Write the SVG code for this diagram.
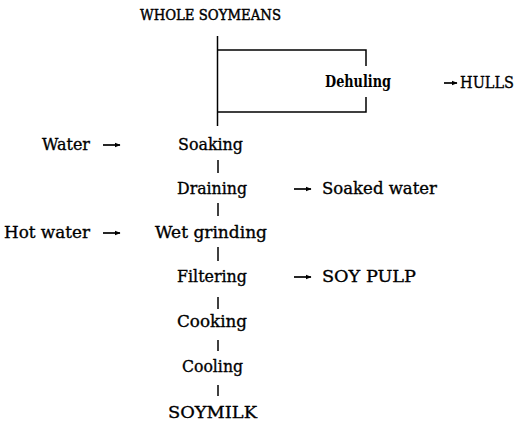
<svg xmlns="http://www.w3.org/2000/svg" width="523" height="426" viewBox="0 0 523 426">
<style>
text{font-family:"DejaVu Serif","Liberation Serif",serif;font-size:17px;fill:#000;stroke:#000;stroke-width:0.35;}
.t{font-size:15.5px;stroke-width:0.45;}
.b{font-weight:bold;stroke-width:0;}
.ln{stroke:#000;stroke-width:1.5;fill:none;}
.ar{stroke:#000;stroke-width:1.7;fill:none;marker-end:url(#ah);}
</style>
<defs>
<marker id="ah" viewBox="0 0 10 10" refX="9" refY="5" markerWidth="3.5" markerHeight="3.5" orient="auto" markerUnits="strokeWidth">
<path d="M0,1 L10,5 L0,9 z" fill="#000"/>
</marker>
</defs>
<rect width="523" height="426" fill="#fff"/>
<g id="connectors">
<path class="ln" d="M217.5,36 V126"/>
<path class="ln" d="M217.5,50 H366 V66"/>
<path class="ln" d="M217.5,112 H366 V97"/>
<path class="ln" d="M218,160 V173"/>
<path class="ln" d="M218,203 V216"/>
<path class="ln" d="M218,247 V261"/>
<path class="ln" d="M218,297 V309"/>
<path class="ln" d="M218,340 V351"/>
<path class="ln" d="M218,385 V396"/>
<path class="ar" d="M444,83 H457"/>
<path class="ar" d="M103,145 H120"/>
<path class="ar" d="M103,233 H120"/>
<path class="ar" d="M294,189 H311"/>
<path class="ar" d="M294,277 H311"/>
</g>
<g id="whole"><text class="t" x="140" y="20" textLength="141" lengthAdjust="spacingAndGlyphs">WHOLE SOYMEANS</text></g>
<g id="dehuling"><text class="b" x="325" y="87" textLength="66" lengthAdjust="spacingAndGlyphs">Dehuling</text></g>
<g id="hulls"><text x="460" y="88" textLength="54" lengthAdjust="spacingAndGlyphs">HULLS</text></g>
<g id="water"><text x="42" y="150" textLength="48" lengthAdjust="spacingAndGlyphs">Water</text></g>
<g id="soaking"><text x="178" y="150" textLength="65" lengthAdjust="spacingAndGlyphs">Soaking</text></g>
<g id="draining"><text x="177" y="194" textLength="70" lengthAdjust="spacingAndGlyphs">Draining</text></g>
<g id="soakedwater"><text x="322" y="194" textLength="115" lengthAdjust="spacingAndGlyphs">Soaked water</text></g>
<g id="hotwater"><text x="4" y="238" textLength="86" lengthAdjust="spacingAndGlyphs">Hot water</text></g>
<g id="wetgrinding"><text x="155" y="238" textLength="112" lengthAdjust="spacingAndGlyphs">Wet grinding</text></g>
<g id="filtering"><text x="177" y="282" textLength="70" lengthAdjust="spacingAndGlyphs">Filtering</text></g>
<g id="soypulp"><text x="322" y="282" textLength="94" lengthAdjust="spacingAndGlyphs">SOY PULP</text></g>
<g id="cooking"><text x="177" y="327" textLength="70" lengthAdjust="spacingAndGlyphs">Cooking</text></g>
<g id="cooling"><text x="182" y="372" textLength="61" lengthAdjust="spacingAndGlyphs">Cooling</text></g>
<g id="soymilk"><text x="168" y="418" textLength="89" lengthAdjust="spacingAndGlyphs">SOYMILK</text></g>
</svg>
